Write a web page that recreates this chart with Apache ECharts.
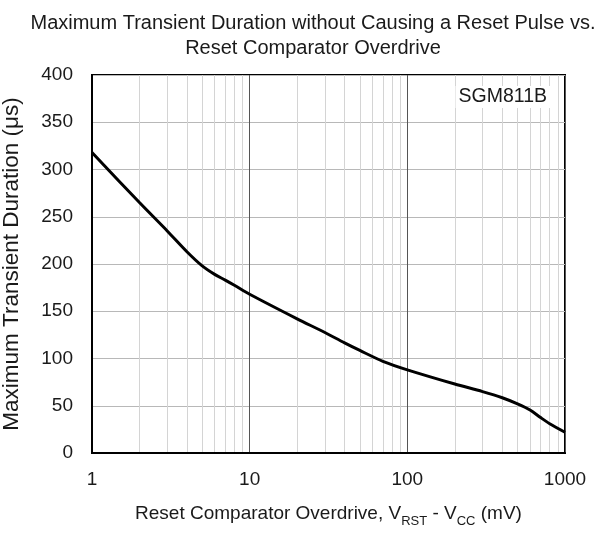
<!DOCTYPE html>
<html><head><meta charset="utf-8">
<script src="https://cdn.jsdelivr.net/npm/echarts@6/dist/echarts.min.js"></script>
<style>html,body{margin:0;padding:0;background:#fff}#c{width:612px;height:534px}</style>
</head><body><div id="c"></div>
<script>
const overdrive = [1, 2, 3, 4, 5, 6, 7, 8, 10, 20, 30, 40, 50, 70, 100, 200, 300, 400, 500, 600, 700, 800, 1000];
const duration  = [318, 265, 235, 213, 198, 189, 183, 177.5, 168, 142, 127.5, 116.5, 108.5, 97, 88, 73, 65, 58.5, 52, 45.5, 37.5, 31, 22];
const yTicks = [0, 50, 100, 150, 200, 250, 300, 350, 400];
const xTicks = [1, 10, 100, 1000];
const titleLines = ['Maximum Transient Duration without Causing a Reset Pulse vs.', 'Reset Comparator Overdrive'];
const seriesLabel = 'SGM811B';

const font = 'Arial, "Liberation Sans", sans-serif';
const chart = echarts.init(document.getElementById('c'), null, {renderer: 'canvas'});
chart.setOption({
  animation: false,
  backgroundColor: '#fff',
  title: {
    text: titleLines.join('\n'),
    left: 308, top: 6, textAlign: 'center',
    textStyle: {fontFamily: font, fontSize: 20, fontWeight: 'normal', color: '#1a1a1a', lineHeight: 25}
  },
  grid: {left: 92, right: 47, top: 75, bottom: 81, show: true, borderColor: '#000', borderWidth: 2,
    backgroundColor: 'transparent', outerBoundsMode: 'none', containLabel: false},
  xAxis: {
    type: 'log', logBase: 10, min: 1, max: 1000,
    name: '{n|Reset Comparator Overdrive, V}{s|RST}{n| - V}{s|CC}{n| (mV)}',
    nameLocation: 'middle', nameGap: 48,
    nameTextStyle: {
      rich: {
        n: {fontFamily: font, fontSize: 19, color: '#1a1a1a', verticalAlign: 'bottom', lineHeight: 22},
        s: {fontFamily: font, fontSize: 13, color: '#1a1a1a', verticalAlign: 'bottom', lineHeight: 15, padding: [0,0,-5,0]}
      }
    },
    axisLine: {show: true, lineStyle: {color: '#000', width: 2}},
    axisTick: {show: false},
    axisLabel: {fontFamily: font, fontSize: 19, color: '#1a1a1a', margin: 17,
      formatter: v => xTicks.includes(Math.round(v)) ? String(Math.round(v)) : ''},
    splitLine: {show: true, lineStyle: {color: '#555', width: 1}},
    minorTick: {show: false, splitNumber: 9},
    minorSplitLine: {show: true, lineStyle: {color: '#d4d4d4', width: 1}}
  },
  yAxis: {
    type: 'value', min: 0, max: 400, interval: 50,
    name: 'Maximum Transient Duration (μs)', nameLocation: 'middle', nameGap: 69,
    nameTextStyle: {fontFamily: font, fontSize: 22.5, color: '#1a1a1a'},
    axisLine: {show: true, lineStyle: {color: '#000', width: 2}},
    axisTick: {show: false},
    axisLabel: {fontFamily: font, fontSize: 19, color: '#1a1a1a', margin: 19,
      formatter: v => yTicks.includes(v) ? String(v) : ''},
    splitLine: {show: true, lineStyle: {color: '#b8b8b8', width: 1}}
  },
  graphic: [{
    type: 'text', right: 62, top: 86, z: 100,
    style: {text: seriesLabel, fontFamily: font, fontSize: 19.5, fill: '#1a1a1a',
      backgroundColor: '#fff', padding: [1, 3, 1, 3]}
  }],
  series: [{
    type: 'line', data: overdrive.map((x, i) => [x, duration[i]]),
    showSymbol: false, smooth: 0.3, clip: true,
    lineStyle: {color: '#000', width: 3}
  }]
});
</script></body></html>
